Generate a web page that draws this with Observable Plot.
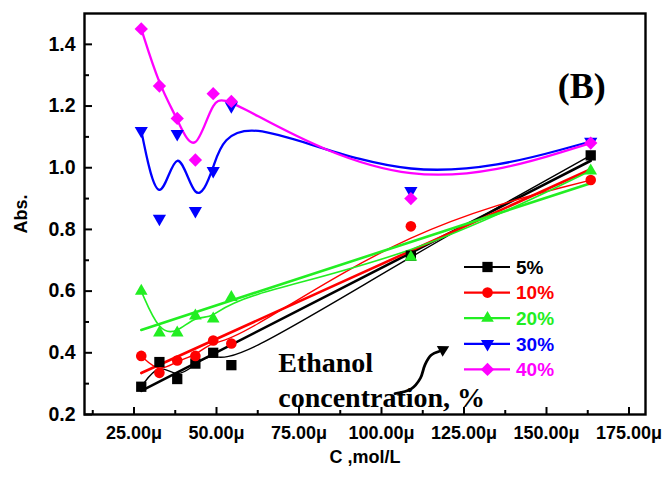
<!DOCTYPE html>
<html>
<head>
<meta charset="utf-8">
<script src="https://cdn.jsdelivr.net/npm/d3@7"></script>
<script src="https://cdn.jsdelivr.net/npm/@observablehq/plot@0.6"></script>
<style>
  html, body { margin: 0; padding: 0; background: #fff; }
  #wrap { position: relative; width: 667px; height: 477px; }
  #legend { position: absolute; left: 0; top: 0; pointer-events: none; }
</style>
</head>
<body>
<div id="wrap"></div>
<script>
// ---- data (concentration in µmol/L, absorbance) ----
const conc   = [27.2, 32.7, 38.1, 43.6, 49.0, 54.5, 108.9, 163.4];
const abs5   = [0.29, 0.37, 0.315, 0.365, 0.40, 0.36, 0.715, 1.04];
const abs10  = [0.39, 0.335, 0.375, 0.39, 0.44, 0.43, 0.81, 0.96];
const abs20  = [0.60, 0.465, 0.465, 0.52, 0.51, 0.58, 0.71, 0.99];
const abs30  = [1.12, 0.835, 1.11, 0.86, 0.99, 1.20, 0.925, 1.085];
const abs40  = [1.45, 1.265, 1.16, 1.025, 1.24, 1.215, 0.90, 1.08];
const seriesNames = ["5%", "10%", "20%", "30%", "40%"];
const seriesValues = [abs5, abs10, abs20, abs30, abs40];
const xTicks = [25, 50, 75, 100, 125, 150, 175];
const xMinorTicks = [12.5, 37.5, 62.5, 87.5, 112.5, 137.5, 162.5];
const yTicks = [0.2, 0.4, 0.6, 0.8, 1.0, 1.2, 1.4];
const yMinorTicks = [0.3, 0.5, 0.7, 0.9, 1.1, 1.3];
const fitted = ["5%", "10%", "20%"];
const annotationText = ["Ethanol", "concentration, %", "(B)"];

// ---- styling ----
const colors = {"5%": "#000000", "10%": "#ff0000", "20%": "#22ee22", "30%": "#0000ff", "40%": "#ff00ff"};
const symbols = {"5%": "square", "10%": "circle", "20%": "triangle", "30%": "triangle", "40%": "diamond2"};
const radii = {"5%": 5.8, "10%": 5.3, "20%": 4.7, "30%": 4.9, "40%": 6.0};
const rot = {"5%": 0, "10%": 0, "20%": 0, "30%": 180, "40%": 0};
const curveW = {"5%": 1.4, "10%": 1.4, "20%": 1.6, "30%": 2.3, "40%": 2.3};

const W = 667, H = 477, ML = 84, MR = 22, MT = 13, MB = 63;
const plotW = W - ML - MR, plotH = H - MT - MB;

const table = seriesNames.map((s, i) => conc.map((c, j) => ({series: s, x: c, y: seriesValues[i][j]})));

const marks = [];
table.forEach(rows => {
  const s = rows[0].series;
  if (fitted.includes(s)) {
    marks.push(Plot.linearRegressionY(rows, {x: "x", y: "y", stroke: colors[s], strokeWidth: 2.6, ci: 0}));
  }
  marks.push(Plot.line(rows, {x: "x", y: "y", stroke: colors[s], strokeWidth: curveW[s], curve: "basis"}));
});
table.forEach(rows => {
  const s = rows[0].series;
  marks.push(Plot.dot(rows, {x: "x", y: "y", fill: colors[s], stroke: "none", symbol: symbols[s], r: radii[s], rotate: rot[s]}));
});

// annotation: curved arrow next to "Ethanol concentration, %"
const arrowPath = [
  {x: 104.1, y: 0.268}, {x: 109.0, y: 0.283}, {x: 111.8, y: 0.318},
  {x: 113.2, y: 0.362}, {x: 115.0, y: 0.392}, {x: 117.6, y: 0.405}
];
const arrowHead = [{x: 118.6, y: 0.410}];

const serif = "'Liberation Serif', 'Times New Roman', serif";
const chart = Plot.plot({
  width: W, height: H,
  marginLeft: ML, marginRight: MR, marginTop: MT, marginBottom: MB,
  style: {fontFamily: "'Liberation Sans', Arial, sans-serif", fontSize: "18px", fontWeight: "bold", color: "#000", background: "#fff"},
  x: {domain: [10, 180]},
  y: {domain: [0.2, 1.5]},
  marks: [
    ...marks,
    Plot.line(arrowPath, {x: "x", y: "y", stroke: "#000", strokeWidth: 2.8, curve: "catmull-rom"}),
    Plot.dot(arrowHead, {x: "x", y: "y", symbol: "triangle", r: 4.6, fill: "#000", rotate: 62}),
    Plot.text([annotationText[0]], {x: 68.7, y: 0.337, text: d => d, textAnchor: "start", lineAnchor: "bottom",
      fontFamily: serif, fontWeight: "bold", fontSize: 28}),
    Plot.text([annotationText[1]], {x: 68.7, y: 0.224, text: d => d, textAnchor: "start", lineAnchor: "bottom",
      fontFamily: serif, fontWeight: "bold", fontSize: 28}),
    Plot.text([annotationText[2]], {x: 160.7, y: 1.225, text: d => d, textAnchor: "middle", lineAnchor: "bottom",
      fontFamily: serif, fontWeight: "bold", fontSize: 36}),
    // inward ticks
    Plot.tickX(xTicks, {x: d => d, insetTop: plotH - 7, stroke: "#000", strokeWidth: 2}),
    Plot.tickX(xMinorTicks, {x: d => d, insetTop: plotH - 4, stroke: "#000", strokeWidth: 2}),
    Plot.tickY(yTicks, {y: d => d, insetRight: plotW - 8, stroke: "#000", strokeWidth: 2}),
    Plot.tickY(yMinorTicks, {y: d => d, insetRight: plotW - 5, stroke: "#000", strokeWidth: 2}),
    Plot.axisX({ticks: xTicks, tickSize: 0, tickPadding: 12, tickFormat: d => d.toFixed(2) + "μ",
      label: "C ,mol/L", labelAnchor: "center", labelArrow: "none", labelOffset: 48}),
    Plot.axisY({ticks: yTicks, tickSize: 0, tickPadding: 9, tickFormat: d => d.toFixed(1), fontSize: 19.5,
      label: null}),
    Plot.axisY({ticks: [], tickSize: 0, label: "Abs.", labelAnchor: "center", labelArrow: "none", labelOffset: 70}),
    Plot.frame({stroke: "#000", strokeWidth: 2.4})
  ]
});
document.getElementById("wrap").appendChild(chart);

// ---- legend overlay (inside the plot frame) ----
const lg = d3.select("#wrap").append("svg").attr("id", "legend").attr("width", W).attr("height", H);
seriesNames.forEach((s, i) => {
  const y = 267 + i * 25.6;
  const g = lg.append("g");
  g.append("line").attr("x1", 464).attr("x2", 510).attr("y1", y).attr("y2", y)
    .attr("stroke", colors[s]).attr("stroke-width", 2.2);
  const sym = {square: d3.symbolSquare, circle: d3.symbolCircle, triangle: d3.symbolTriangle, diamond2: d3.symbolDiamond2}[symbols[s]];
  g.append("path").attr("d", d3.symbol(sym, Math.PI * radii[s] * radii[s])())
    .attr("transform", `translate(487.5,${y}) rotate(${rot[s]})`).attr("fill", colors[s]);
  g.append("text").attr("x", 516).attr("y", y).attr("dy", "0.36em").text(s)
    .attr("fill", colors[s]).attr("font-family", "'Liberation Sans', Arial, sans-serif")
    .attr("font-weight", "bold").attr("font-size", 19);
});
</script>
</body>
</html>
